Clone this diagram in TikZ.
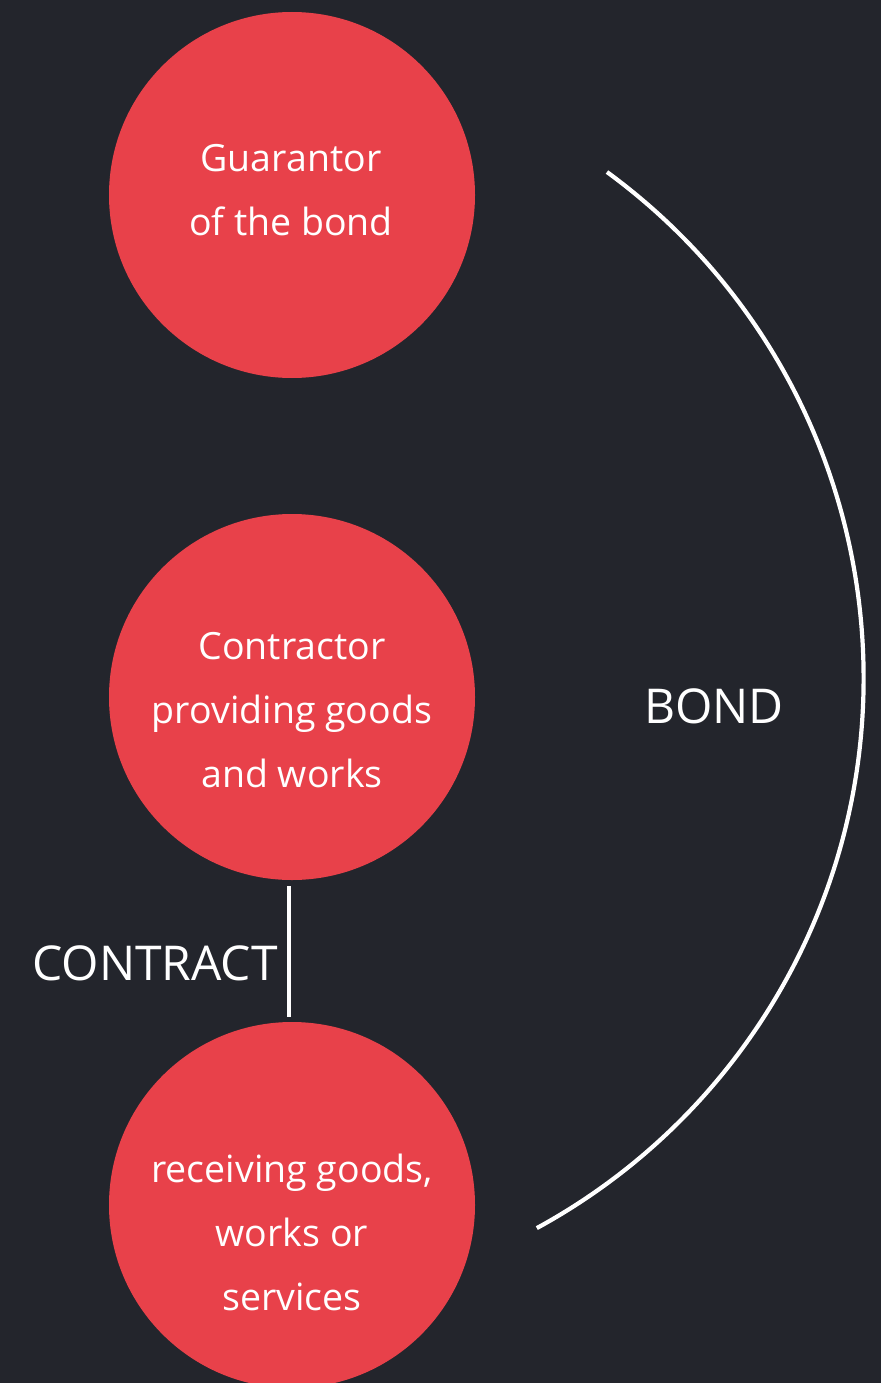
\documentclass[tikz,border=0pt]{standalone}
\usepackage{fontspec}
\setmainfont{Open Sans}
\begin{document}
\definecolor{bg}{HTML}{23252C}
\definecolor{disc}{HTML}{E8414A}
\begin{tikzpicture}[x=1pt,y=-1pt,
  party/.style={circle,fill=disc,minimum size=366pt,inner sep=0pt},
  partytext/.style={text=white,align=center,font=\fontsize{37.5}{64}\selectfont},
  tag/.style={text=white,font=\fontsize{48}{56}\selectfont,inner sep=0pt},
  link/.style={draw=white,line width=4.2pt}]
  % canvas
  \fill[bg] (0,0) rectangle (881,1383);
  \useasboundingbox (0,0) rectangle (881,1383);
  % parties
  \node[party] (guar) at (292,195) {};
  \node[party] (contr) at (292,697) {};
  \begin{scope}
    \clip (0,0) rectangle (881,1383);
    \node[party] (recv) at (292,1205) {};
  \end{scope}
  \node[partytext] (guartext) at (291,190) {Guarantor\\of the bond};
  \node[partytext] (contrtext) at (292,710) {Contractor\\providing goods\\and works};
  \node[partytext] (recvtext) at (292,1232) {receiving goods,\\works or\\services};
  % contract link
  \draw[link,shorten <=6pt,shorten >=5pt] ([xshift=-3pt]contr.south) -- ([xshift=-3pt]recv.north);
  \node[tag,anchor=east] (contract) at (278,963) {CONTRACT};
  % bond arc
  \coordinate (bondstart) at ({236.8+626.8*cos(53.8)},{677.8-626.8*sin(53.8)});
  \draw[link] (bondstart) arc[start angle=-53.8,end angle=61.4,radius=626.8];
  \node[tag] (bond) at (714,706) {BOND};
\end{tikzpicture}
\end{document}
